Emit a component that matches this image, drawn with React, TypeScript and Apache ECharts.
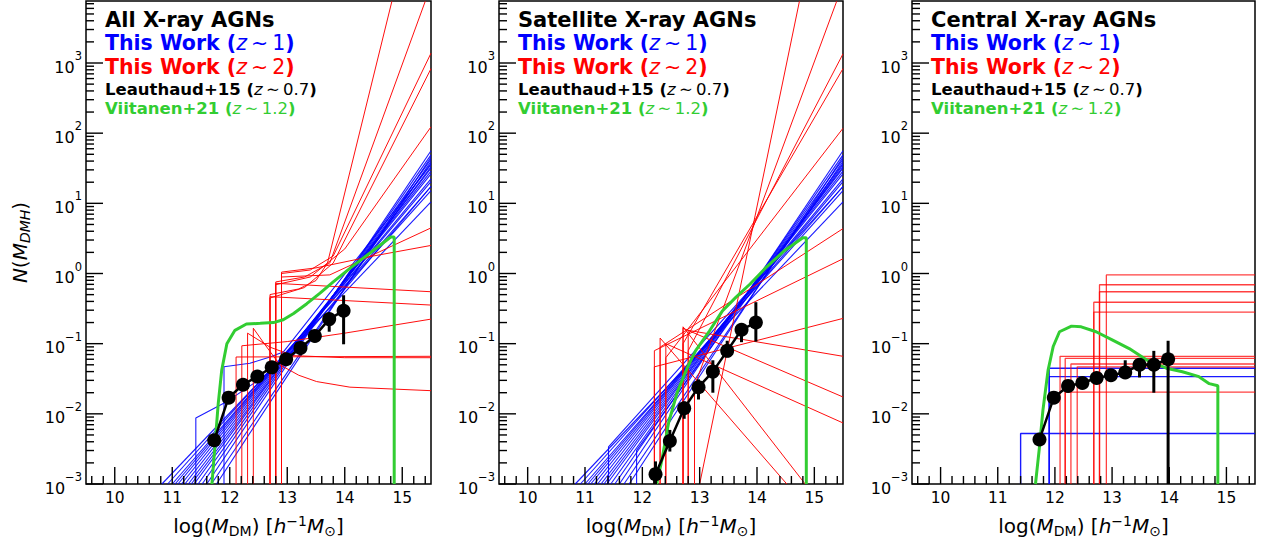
import React, { useEffect, useRef } from 'react';
import * as echarts from 'echarts';

const FONT = '"DejaVu Sans", sans-serif';
const X_MIN = 9.5;
const X_MAX = 15.5;
const Y_MIN = 1e-3;
const Y_MAX = 7650;

const X_TICK_LABELS = [10, 11, 12, 13, 14, 15];
const Y_DECADES = [-3, -2, -1, 0, 1, 2, 3];

const PANEL_TITLES = ['All X-ray AGNs', 'Satellite X-ray AGNs', 'Central X-ray AGNs'];

const BLUE = '#0000ff';
const RED = '#ff0000';
const GREEN = '#32cd32';

// ---------- Leauthaud+15 points (N values) ----------
const L15_X_ALL = [11.73, 11.98, 12.23, 12.48, 12.73, 12.98, 13.23, 13.48, 13.73, 13.98];
const L15_N_ALL = [0.0042, 0.017, 0.026, 0.034, 0.046, 0.06, 0.087, 0.129, 0.224, 0.295];
const L15_LO_ALL = [0.0037, 0.015, 0.023, 0.031, 0.042, 0.055, 0.068, 0.105, 0.148, 0.098];
const L15_HI_ALL = [0.0048, 0.019, 0.029, 0.038, 0.051, 0.066, 0.095, 0.155, 0.27, 0.49];

const L15_X_SAT = [12.23, 12.48, 12.73, 12.98, 13.23, 13.48, 13.73, 13.98];
const L15_N_SAT = [0.00138, 0.0041, 0.012, 0.024, 0.04, 0.079, 0.158, 0.2];
const L15_LO_SAT = [0.001, 0.0029, 0.0085, 0.016, 0.02, 0.064, 0.105, 0.107];
const L15_HI_SAT = [0.0021, 0.0059, 0.015, 0.031, 0.058, 0.11, 0.19, 0.39];

const L15_X_CEN = [11.73, 11.98, 12.23, 12.48, 12.73, 12.98, 13.23, 13.48, 13.73, 13.98];
const L15_N_CEN = [0.0043, 0.017, 0.025, 0.0275, 0.0324, 0.0354, 0.0389, 0.05, 0.05, 0.06];
const L15_LO_CEN = [0.0039, 0.0155, 0.023, 0.025, 0.027, 0.031, 0.035, 0.033, 0.02, 0.001];
const L15_HI_CEN = [0.0047, 0.019, 0.027, 0.03, 0.039, 0.04, 0.058, 0.0595, 0.079, 0.11];

// ---------- Viitanen+21 curves: [log M, log10 N] ----------
const GREEN_ALL = [
  [11.69, -3], [11.8, -1.85], [11.86, -1.38], [11.95, -1.0], [12.09, -0.81], [12.29, -0.72],
  [12.53, -0.71], [12.76, -0.7], [12.93, -0.66], [13.11, -0.57], [13.34, -0.43], [13.57, -0.28],
  [13.8, -0.12], [14.1, 0.08], [14.45, 0.3], [14.8, 0.52], [14.86, 0.52], [14.86, -3],
];
const GREEN_SAT = [
  [12.25, -3], [12.34, -2.66], [12.46, -2.12], [12.61, -1.69], [12.78, -1.35], [12.93, -1.1],
  [13.17, -0.82], [13.4, -0.53], [13.63, -0.34], [13.88, -0.15], [14.15, 0.08], [14.47, 0.32],
  [14.8, 0.51], [14.86, 0.51], [14.86, -3],
];
const GREEN_CEN = [
  [11.66, -3], [11.73, -2.47], [11.79, -1.95], [11.88, -1.38], [11.97, -1.04], [12.08, -0.83],
  [12.29, -0.75], [12.46, -0.76], [12.72, -0.83], [13.01, -0.95], [13.3, -1.07], [13.6, -1.23],
  [13.95, -1.35], [14.23, -1.4], [14.52, -1.47], [14.7, -1.57], [14.85, -1.6], [14.85, -3],
];

// ---------- This Work z~1 (blue) : [log M, log10 N] ----------
const BLUE_ALL = [
  [[10.82, -3], [15.5, 1.02]],
  [[10.92, -3], [15.5, 1.18]],
  [[11.0, -3], [15.5, 1.24]],
  [[11.05, -3], [15.5, 1.31]],
  [[11.1, -3], [15.5, 1.35]],
  [[11.16, -3], [15.5, 1.42]],
  [[11.22, -3], [15.5, 1.46]],
  [[11.28, -3], [15.5, 1.5]],
  [[11.33, -3], [15.5, 1.52]],
  [[11.38, -3], [15.5, 1.57]],
  [[11.45, -3], [15.5, 1.63]],
  [[11.52, -3], [15.5, 1.69]],
  [[11.6, -3], [15.5, 1.75]],
  [[11.68, -3], [15.5, 1.6]],
  [[11.77, -3], [15.5, 1.66]],
  [[11.41, -3], [11.41, -2.06], [11.92, -1.84], [12.5, -1.52], [13.0, -1.2], [15.5, 1.24]],
  [[11.9, -3], [11.9, -1.33], [12.35, -1.28], [12.7, -1.19], [12.93, -1.12], [15.5, 1.55]],
];
const BLUE_SAT = [
  [[10.83, -3], [15.5, 1.02]],
  [[10.92, -3], [15.5, 1.18]],
  [[11.0, -3], [15.5, 1.24]],
  [[11.05, -3], [15.5, 1.31]],
  [[11.1, -3], [15.5, 1.35]],
  [[11.16, -3], [15.5, 1.42]],
  [[11.22, -3], [15.5, 1.46]],
  [[11.28, -3], [15.5, 1.5]],
  [[11.33, -3], [15.5, 1.52]],
  [[11.38, -3], [15.5, 1.57]],
  [[11.45, -3], [15.5, 1.63]],
  [[11.52, -3], [15.5, 1.69]],
  [[11.6, -3], [15.5, 1.75]],
  [[11.68, -3], [15.5, 1.6]],
  [[11.77, -3], [15.5, 1.66]],
  [[11.41, -3], [11.41, -2.47], [15.5, 1.24]],
  [[11.9, -3], [11.9, -2.52], [15.5, 1.55]],
];
const BLUE_CEN = [
  [[11.4, -3], [11.4, -2.28], [15.5, -2.28]],
  [[11.9, -3], [11.9, -1.35], [15.5, -1.35]],
  [[11.9, -3], [11.9, -1.47], [15.5, -1.47]],
];

// ---------- This Work z~2 (red) : [log M, log10 N] ----------
const RED_ALL = [
  [[12.11, -3], [12.11, -1.19], [15.5, -1.18]],
  [[12.21, -3], [12.21, -1.03], [13.0, -0.97], [14.0, -0.85], [15.5, -0.65]],
  [[12.31, -3], [12.31, -0.85], [12.7, -1.05], [13.1, -1.17], [14.0, -1.2], [15.5, -1.2]],
  [[12.41, -3], [12.41, -0.78], [12.6, -1.0], [12.87, -1.3], [13.2, -1.45], [13.51, -1.54], [14.09, -1.62], [15.5, -1.67]],
  [[12.7, -3], [12.7, -0.33], [15.5, -0.45]],
  [[12.8, -3], [12.8, -0.14], [15.5, -0.26]],
  [[12.9, -3], [12.9, 0.02], [13.5, 0.08], [14.5, 0.25], [15.5, 0.4]],
  [[12.7, -3], [12.7, -0.3], [13.2, -0.22], [13.5, -0.1], [13.7, 0.15], [14.82, 3.88]],
  [[12.8, -3], [12.8, -0.12], [13.3, -0.05], [13.74, 0.15], [15.4, 3.88]],
  [[12.9, -3], [12.9, 0.0], [13.4, 0.05], [13.8, 0.25], [15.5, 3.14]],
  [[12.7, -3], [12.7, -0.35], [13.3, -0.2], [13.8, 0.15], [15.5, 2.92]],
  [[12.8, -3], [12.8, -0.16], [13.4, -0.05], [14.0, 0.35], [15.5, 2.09]],
  [[12.9, -3], [12.9, -0.05], [13.74, -0.02], [15.5, 0.65]],
];
const RED_SAT = [
  [[12.21, -3], [12.21, -1.33], [15.5, -0.64]],
  [[12.31, -3], [12.31, -0.92], [14.52, -3]],
  [[12.41, -3], [12.41, -1.0], [15.5, -2.13]],
  [[12.71, -3], [12.71, -0.78], [15.5, -1.76]],
  [[12.71, -3], [12.71, -0.76], [14.84, -3]],
  [[12.8, -3], [12.8, -0.81], [15.5, -1.18]],
  [[13.0, -3], [14.74, 3.88]],
  [[12.91, -3], [12.91, -1.6], [15.39, 3.88]],
  [[12.8, -3], [12.8, -1.1], [15.5, 3.13]],
  [[12.71, -3], [12.71, -1.0], [15.5, 2.92]],
  [[12.41, -3], [12.41, -1.2], [15.5, 2.07]],
  [[12.31, -3], [12.31, -1.05], [15.5, 0.64]],
  [[12.21, -3], [12.21, -1.1], [15.5, 0.21]],
];
const RED_CEN = [
  [[12.09, -3], [12.09, -1.18], [15.5, -1.18]],
  [[12.18, -3], [12.18, -1.21], [15.5, -1.21]],
  [[12.18, -3], [12.18, -1.69], [15.5, -1.69]],
  [[12.28, -3], [12.28, -1.29], [15.5, -1.29]],
  [[12.39, -3], [12.39, -1.33], [15.5, -1.33]],
  [[12.68, -3], [12.68, -0.41], [15.5, -0.41]],
  [[12.68, -3], [12.68, -0.55], [15.5, -0.55]],
  [[12.78, -3], [12.78, -0.16], [15.5, -0.16]],
  [[12.78, -3], [12.78, -0.26], [15.5, -0.26]],
  [[12.9, -3], [12.9, -0.02], [15.5, -0.02]],
];

const PANEL_LAYOUT = [
  { left: 86, width: 345 },
  { left: 499, width: 344 },
  { left: 912, width: 343 },
];
const GRID_TOP = 1;
const GRID_HEIGHT = 483;

const BLUE_SETS = [BLUE_ALL, BLUE_SAT, BLUE_CEN];
const RED_SETS = [RED_ALL, RED_SAT, RED_CEN];
const GREEN_SETS = [GREEN_ALL, GREEN_SAT, GREEN_CEN];
const L15_SETS = [
  { x: L15_X_ALL, n: L15_N_ALL, lo: L15_LO_ALL, hi: L15_HI_ALL },
  { x: L15_X_SAT, n: L15_N_SAT, lo: L15_LO_SAT, hi: L15_HI_SAT },
  { x: L15_X_CEN, n: L15_N_CEN, lo: L15_LO_CEN, hi: L15_HI_CEN },
];

const toN = (pts: number[][]) => pts.map(([x, l]) => [x, Math.pow(10, l)]);

function lineSeries(g: number, pts: number[][], color: string, width: number, z: number, opacity = 1) {
  return {
    type: 'line',
    xAxisIndex: g,
    yAxisIndex: g,
    data: toN(pts),
    symbol: 'none',
    showSymbol: false,
    clip: true,
    silent: true,
    lineStyle: { color, width, opacity },
    z,
  };
}

function buildOption() {
  const series: any[] = [];

  const xTicks: number[][] = [];
  for (let k = 48; k <= 77; k++) {
    const v = Math.round(k * 2) / 10;
    const major = Math.abs(v - Math.round(v)) < 1e-9 ? 1 : 0;
    xTicks.push([v, Y_MIN, major]);
  }
  const yTicks: number[][] = [];
  Y_DECADES.forEach((d) => {
    yTicks.push([X_MIN, Math.pow(10, d), 1]);
    for (let k = 2; k <= 9; k++) {
      const v = k * Math.pow(10, d);
      if (v < Y_MAX) yTicks.push([X_MIN, v, 0]);
    }
  });

  for (let g = 0; g < 3; g++) {
    BLUE_SETS[g].forEach((pts) => series.push(lineSeries(g, pts, BLUE, g === 2 ? 1.4 : 1.1, 2, 0.9)));
    RED_SETS[g].forEach((pts) => series.push(lineSeries(g, pts, RED, g === 2 ? 1.3 : 1, 3, g === 2 ? 0.75 : 0.95)));
    series.push(lineSeries(g, GREEN_SETS[g], GREEN, 3, 4));

    const L = L15_SETS[g];
    series.push({
      type: 'line',
      xAxisIndex: g,
      yAxisIndex: g,
      data: L.x.map((x, i) => [x, L.n[i]]),
      symbol: 'circle',
      symbolSize: 14,
      showSymbol: true,
      showAllSymbol: true,
      itemStyle: { color: '#000' },
      lineStyle: { color: '#000', width: 2.5 },
      silent: true,
      z: 6,
    });
    series.push({
      type: 'custom',
      xAxisIndex: g,
      yAxisIndex: g,
      data: L.x.map((x, i) => [x, L.lo[i], L.hi[i]]),
      silent: true,
      z: 7,
      renderItem: (_p: any, api: any) => {
        const a = api.coord([api.value(0), api.value(1)]);
        const b = api.coord([api.value(0), api.value(2)]);
        return {
          type: 'line',
          shape: { x1: a[0], y1: a[1], x2: b[0], y2: b[1] },
          style: { stroke: '#000', lineWidth: 3 },
        };
      },
    });

    series.push({
      type: 'custom',
      xAxisIndex: g,
      yAxisIndex: g,
      data: xTicks,
      silent: true,
      z: 20,
      renderItem: (_p: any, api: any) => {
        const p = api.coord([api.value(0), api.value(1)]);
        const len = api.value(2) ? 17 : 8;
        return {
          type: 'line',
          shape: { x1: p[0], y1: p[1], x2: p[0], y2: p[1] - len },
          style: { stroke: '#000', lineWidth: 1.4 },
        };
      },
    });
    series.push({
      type: 'custom',
      xAxisIndex: g,
      yAxisIndex: g,
      data: yTicks,
      silent: true,
      z: 20,
      renderItem: (_p: any, api: any) => {
        const p = api.coord([api.value(0), api.value(1)]);
        const len = api.value(2) ? 17 : 8;
        return {
          type: 'line',
          shape: { x1: p[0], y1: p[1], x2: p[0] + len, y2: p[1] },
          style: { stroke: '#000', lineWidth: 1.4 },
        };
      },
    });
  }

  const grids = PANEL_LAYOUT.map((p) => ({
    left: p.left,
    top: GRID_TOP,
    width: p.width,
    height: GRID_HEIGHT,
    show: true,
    borderColor: '#000',
    borderWidth: 1.5,
    backgroundColor: 'transparent',
  }));

  const xAxes = PANEL_LAYOUT.map((_p, g) => ({
    type: 'value',
    gridIndex: g,
    min: X_MIN,
    max: X_MAX,
    splitNumber: 6,
    axisLine: { show: false },
    axisTick: { show: false },
    splitLine: { show: false },
    axisLabel: {
      color: '#000',
      fontFamily: FONT,
      fontSize: 15.5,
      margin: 6,
      formatter: (v: number) => {
        const r = Math.round(v);
        return Math.abs(v - r) < 1e-6 && X_TICK_LABELS.indexOf(r) >= 0 ? String(r) : '';
      },
    },
    name: '{n|log(}{i|M}{sub|DM}{n|) [}{i|h}{sup|\u22121}{i|M}{sub|\u2299}{n|]}',
    nameLocation: 'middle',
    nameGap: 29,
    nameTextStyle: {
      color: '#000',
      fontFamily: FONT,
      fontSize: 20,
      rich: {
        n: { fontFamily: FONT, fontSize: 20, lineHeight: 26, color: '#000' },
        i: { fontFamily: FONT, fontSize: 20, lineHeight: 26, fontStyle: 'italic', color: '#000' },
        sub: { fontFamily: FONT, fontSize: 14, lineHeight: 16, padding: [10, 0, 0, 0], color: '#000' },
        sup: { fontFamily: FONT, fontSize: 14, lineHeight: 16, padding: [0, 0, 10, 0], color: '#000' },
      },
    },
  }));

  const yAxes = PANEL_LAYOUT.map((_p, g) => ({
    type: 'log',
    logBase: 10,
    gridIndex: g,
    min: Y_MIN,
    max: Y_MAX,
    axisLine: { show: false },
    axisTick: { show: false },
    minorTick: { show: false },
    splitLine: { show: false },
    axisLabel: {
      margin: 4,
      formatter: (v: number) => {
        const e = Math.log10(v);
        const r = Math.round(e);
        if (Math.abs(e - r) > 1e-6 || Y_DECADES.indexOf(r) < 0) return '';
        return `{b|10}{s|${r < 0 ? '\u2212' + -r : r}}`;
      },
      rich: {
        b: { fontFamily: FONT, fontSize: 16, lineHeight: 18, padding: [8, 0, 0, 0], color: '#000' },
        s: { fontFamily: FONT, fontSize: 11.5, lineHeight: 12, padding: [0, 0, 14, 0], color: '#000' },
      },
    },
    ...(g === 0
      ? {
          name: '{i|N}{n|(}{i|M}{s|DMH}{n|)}',
          nameLocation: 'middle',
          nameRotate: 90,
          nameGap: 53,
          nameTextStyle: {
            color: '#000',
            fontFamily: FONT,
            fontSize: 20,
            rich: {
              n: { fontFamily: FONT, fontSize: 20, lineHeight: 26, color: '#000' },
              i: { fontFamily: FONT, fontSize: 20, lineHeight: 26, fontStyle: 'italic', color: '#000' },
              s: { fontFamily: FONT, fontSize: 14, lineHeight: 16, fontStyle: 'italic', padding: [10, 0, 0, 0], color: '#000' },
            },
          },
        }
      : {}),
  }));

  // legend block: one multi-line rich text per panel
  const tok = (color: string, size: number, lh: number, kind: 'b' | 'i' | 'm') => ({
    fontFamily: FONT,
    fontSize: size,
    lineHeight: lh,
    fill: color,
    fontWeight: kind === 'b' ? 'bold' : 'normal',
    fontStyle: kind === 'i' ? 'italic' : 'normal',
  });
  const BIG = 20.5;
  const SMALL = 16.5;
  const legendRich: any = {
    t: tok('#000', BIG + 0.5, 23.5, 'b'),
    b1: tok(BLUE, BIG, 23.5, 'b'), i1: tok(BLUE, BIG, 23.5, 'i'), m1: tok(BLUE, BIG, 23.5, 'm'),
    b2: tok(RED, BIG, 23.5, 'b'), i2: tok(RED, BIG, 23.5, 'i'), m2: tok(RED, BIG, 23.5, 'm'),
    b3: tok('#000', SMALL, 22.5, 'b'), i3: tok('#000', SMALL, 22.5, 'i'), m3: tok('#000', SMALL, 22.5, 'm'),
    b4: tok(GREEN, SMALL, 14, 'b'), i4: tok(GREEN, SMALL, 14, 'i'), m4: tok(GREEN, SMALL, 14, 'm'),
  };
  const S = '\u2009\u223C\u2009';
  const legendLine = (k: number, label: string, zv: string) =>
    `{b${k}|${label} (}{i${k}|z}{m${k}|${S}${zv}}{b${k}|)}`;

  const graphics: any[] = PANEL_LAYOUT.map((p, g) => ({
    type: 'text',
    x: p.left + 19,
    y: 8,
    z: 100,
    silent: true,
    style: {
      text: [
        `{t|${PANEL_TITLES[g]}}`,
        legendLine(1, 'This Work', '1'),
        legendLine(2, 'This Work', '2'),
        legendLine(3, 'Leauthaud+15', '0.7'),
        legendLine(4, 'Viitanen+21', '1.2'),
      ].join('\n'),
      rich: legendRich,
      fontFamily: FONT,
      fontSize: BIG,
      fill: '#000',
      verticalAlign: 'top',
      align: 'left',
    },
  }));

  return {
    animation: false,
    backgroundColor: '#ffffff',
    grid: grids,
    xAxis: xAxes,
    yAxis: yAxes,
    series,
    graphic: graphics,
  };
}

export default function App() {
  const ref = useRef<HTMLDivElement>(null);
  useEffect(() => {
    if (!ref.current) return;
    const chart = echarts.init(ref.current, undefined, { renderer: 'svg' });
    chart.setOption(buildOption() as any);
    return () => chart.dispose();
  }, []);
  return (
    <div
      ref={ref}
      style={{ position: 'fixed', left: 0, top: 0, width: 1265, height: 546, background: '#fff' }}
    />
  );
}
